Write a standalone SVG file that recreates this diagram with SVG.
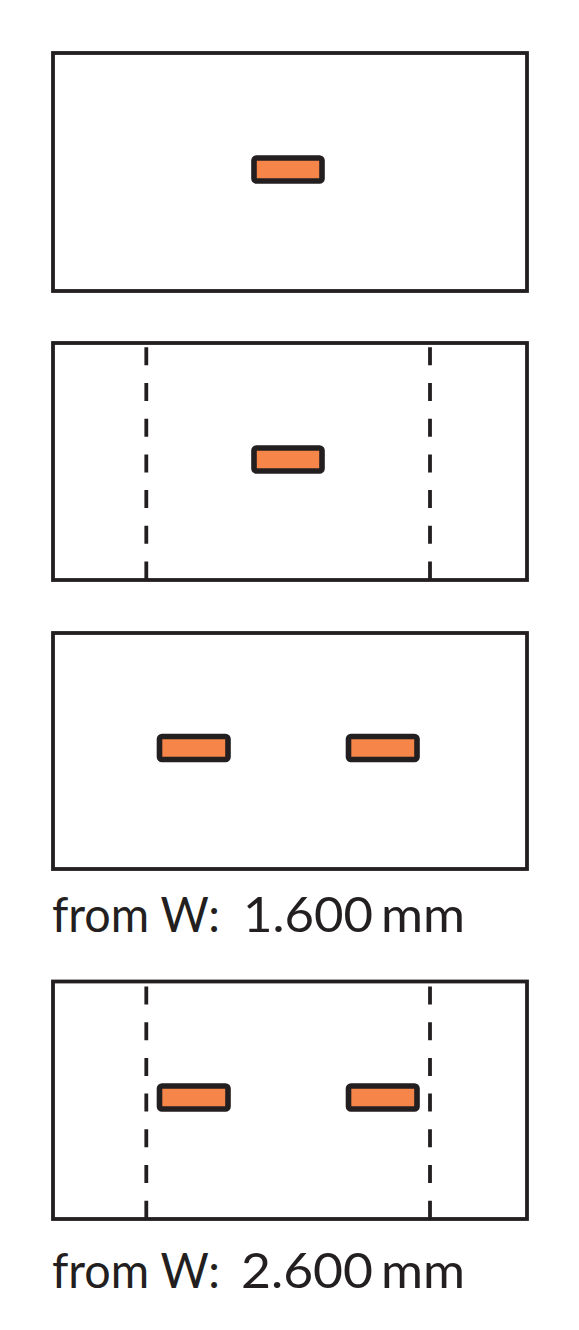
<svg xmlns="http://www.w3.org/2000/svg" width="579" height="1330" viewBox="0 0 579 1330">
<style>
.frame{fill:#fff;stroke:#231f20;stroke-width:3.8}
.dash{stroke:#231f20;stroke-width:3.8;stroke-dasharray:18 17.7;fill:none}
.el{fill:#f58549;stroke:#231f20;stroke-width:5.6}
.lbl{font-family:Lato,"Liberation Sans",sans-serif;font-size:49px;fill:#231f20}
</style>
<rect width="579" height="1330" fill="#fff"/>
<g id="panel1">
<rect class="frame" x="53" y="53" width="474" height="238"/>
<rect class="el" x="254" y="158" width="68" height="23" rx="2.5"/>
</g>
<g id="panel2">
<rect class="frame" x="53" y="343" width="474" height="237"/>
<line class="dash" x1="146.3" y1="347.3" x2="146.3" y2="580"/>
<line class="dash" x1="430" y1="347.3" x2="430" y2="580"/>
<rect class="el" x="254" y="448" width="68" height="23" rx="2.5"/>
</g>
<g id="panel3">
<rect class="frame" x="53" y="633" width="474" height="236"/>
<rect class="el" x="159.5" y="736.5" width="68.5" height="23" rx="2.5"/>
<rect class="el" x="348.5" y="736.5" width="68.5" height="23" rx="2.5"/>
<text class="lbl" x="52" y="932" textLength="168" lengthAdjust="spacingAndGlyphs">from W:</text>
<text class="lbl" x="243" y="932" textLength="130" lengthAdjust="spacingAndGlyphs">1.600</text>
<text class="lbl" x="381" y="932" textLength="84" lengthAdjust="spacingAndGlyphs">mm</text>
</g>
<g id="panel4">
<rect class="frame" x="53" y="981.5" width="474" height="237.5"/>
<line class="dash" x1="146.3" y1="986.5" x2="146.3" y2="1219"/>
<line class="dash" x1="430" y1="986.5" x2="430" y2="1219"/>
<rect class="el" x="159.5" y="1086" width="68.5" height="23" rx="2.5"/>
<rect class="el" x="348.5" y="1086" width="68.5" height="23" rx="2.5"/>
<text class="lbl" x="52" y="1288" textLength="168" lengthAdjust="spacingAndGlyphs">from W:</text>
<text class="lbl" x="241" y="1288" textLength="132" lengthAdjust="spacingAndGlyphs">2.600</text>
<text class="lbl" x="381" y="1288" textLength="84" lengthAdjust="spacingAndGlyphs">mm</text>
</g>
<g id="connectors"/>
</svg>
